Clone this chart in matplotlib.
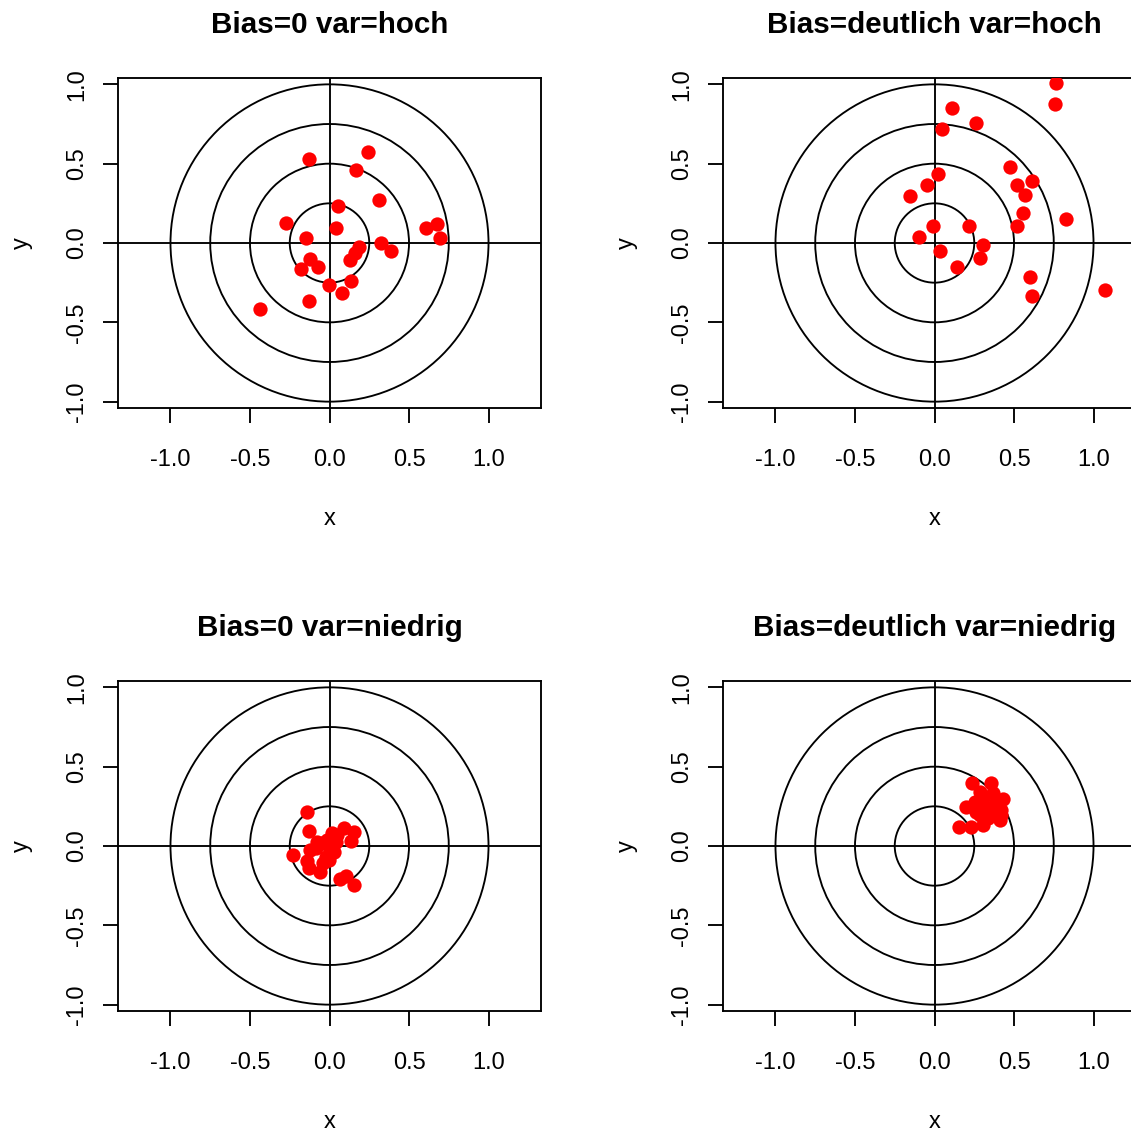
import matplotlib
matplotlib.use('Agg')
import matplotlib.pyplot as plt
from matplotlib.patches import Circle

plt.rcParams['font.family'] = ['Liberation Sans', 'DejaVu Sans']

# ---- data ----
titles = ["Bias=0 var=hoch", "Bias=deutlich var=hoch",
          "Bias=0 var=niedrig", "Bias=deutlich var=niedrig"]

x_b0_hoch = [-0.13, 0.243, 0.164, 0.314, 0.055, -0.275, 0.044, -0.145, 0.606, 0.679,
             0.692, 0.184, 0.16, 0.126, 0.325, 0.386, -0.121, -0.073, -0.18, 0.138,
             -0.002, 0.08, -0.132, -0.44]
y_b0_hoch = [0.53, 0.574, 0.459, 0.27, 0.235, 0.128, 0.092, 0.034, 0.092, 0.117,
             0.034, -0.023, -0.065, -0.107, -0.002, -0.048, -0.103, -0.153, -0.166, -0.237,
             -0.264, -0.317, -0.365, -0.413]

x_bd_hoch = [0.767, 0.757, 0.107, 0.259, 0.048, 0.472, 0.613, 0.519, 0.566, 0.025,
             -0.047, -0.154, 0.554, 0.519, 0.826, -0.011, 0.214, -0.095, 0.307, 0.036,
             0.284, 0.141, 0.601, 0.614, 1.075]
y_bd_hoch = [1.011, 0.874, 0.849, 0.754, 0.718, 0.481, 0.391, 0.364, 0.305, 0.437,
             0.364, 0.297, 0.188, 0.108, 0.152, 0.108, 0.108, 0.036, -0.013, -0.048,
             -0.097, -0.153, -0.212, -0.332, -0.294]

x_b0_nied = [-0.143, -0.132, -0.228, -0.14, -0.126, -0.061, -0.044, 0.09, 0.155, 0.136,
             0.103, 0.065, 0.153, 0.017, -0.015, -0.046, -0.088, 0.006, 0.038, -0.025,
             -0.077, 0.048, -0.004, -0.12, 0.027]
y_b0_nied = [0.212, 0.096, -0.059, -0.093, -0.141, -0.164, -0.109, 0.111, 0.086, 0.033,
             -0.189, -0.21, -0.248, 0.08, 0.038, 0.017, -0.015, -0.025, 0.027, -0.067,
             0.027, 0.069, -0.088, -0.025, -0.036]

x_bd_nied = [0.235, 0.353, 0.284, 0.431, 0.199, 0.252, 0.389, 0.326, 0.357, 0.42,
             0.157, 0.231, 0.304, 0.336, 0.409, 0.283, 0.367, 0.304, 0.42, 0.262]
y_bd_nied = [0.394, 0.4, 0.342, 0.294, 0.248, 0.279, 0.279, 0.248, 0.217, 0.228,
             0.122, 0.122, 0.133, 0.175, 0.164, 0.195, 0.331, 0.3, 0.195, 0.217]

ring_radii = [0.25, 0.5, 0.75, 1.0]
tick_values = [-1.0, -0.5, 0.0, 0.5, 1.0]
tick_labels = ["-1.0", "-0.5", "0.0", "0.5", "1.0"]

series = [(x_b0_hoch, y_b0_hoch), (x_bd_hoch, y_bd_hoch),
          (x_b0_nied, y_b0_nied), (x_bd_nied, y_bd_nied)]

# ---- layout ----
FW, FH = 1131, 1130
fig = plt.figure(figsize=(FW / 100, FH / 100), dpi=100)
W, H = 423 / FW, 330 / FH
lefts = [118 / FW, 723 / FW]
bottoms = [1 - 408 / FH, 1 - 1011 / FH]
positions = [(lefts[0], bottoms[0]), (lefts[1], bottoms[0]),
             (lefts[0], bottoms[1]), (lefts[1], bottoms[1])]

LW = 1.35
for (title, (xs, ys), (l, b)) in zip(titles, series, positions):
    ax = fig.add_axes([l, b, W, H])
    ax.set_xlim(-1.33, 1.33)
    ax.set_ylim(-1.04, 1.04)
    ax.axhline(0, color='black', lw=LW, zorder=1)
    ax.axvline(0, color='black', lw=LW, zorder=1)
    for r in ring_radii:
        ax.add_patch(Circle((0, 0), r, fill=False, ec='black', lw=LW, zorder=1))
    ax.plot(xs, ys, 'o', color='#FF0000', ms=10.3, mec='none', zorder=3)
    for sp in ax.spines.values():
        sp.set_linewidth(LW)
        sp.set_color('black')
    ax.set_xticks(tick_values)
    ax.set_xticklabels(tick_labels)
    ax.set_yticks(tick_values)
    ax.set_yticklabels(tick_labels, rotation=90, va='center')
    ax.tick_params(axis='both', direction='out', length=10.8, width=LW,
                   labelsize=17, colors='black')
    ax.tick_params(axis='x', pad=18.5)
    ax.tick_params(axis='y', pad=10.5)
    ax.set_title(title, fontsize=21.3, fontweight='bold', pad=32.5)
    ax.set_xlabel('x', fontsize=17)
    ax.xaxis.set_label_coords(0.5, -(518 - 407) / 330)
    ax.xaxis.label.set_va('center')
    ax.set_ylabel('y', fontsize=17)
    ax.yaxis.set_label_coords(-(118 - 22) / 423, 0.5)
    ax.yaxis.label.set_va('center')
    ax.yaxis.label.set_ha('center')

fig.savefig('out.png', dpi=100, facecolor='white')
